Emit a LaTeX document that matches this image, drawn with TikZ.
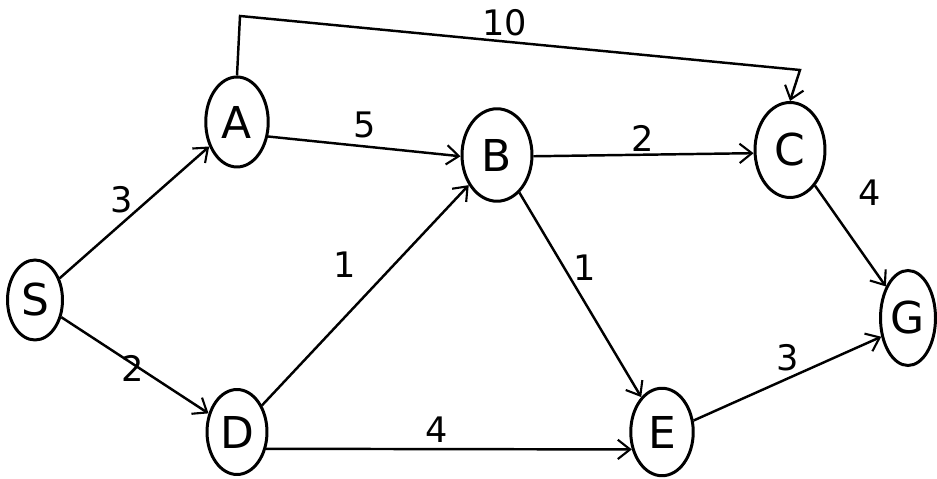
\documentclass[tikz,border=0pt]{standalone}
\usepackage{fontspec}
\setmainfont{DejaVu Sans}
\usetikzlibrary{shapes.geometric,arrows.meta}
\begin{document}
\begin{tikzpicture}[x=0.02cm,y=-0.02cm,
  vtx/.style={draw,ellipse,line width=1.7pt,inner sep=0pt,font=\fontsize{25}{27}\selectfont},
  edge/.style={line width=1.4pt,-{Straight Barb[length=7pt,width=11pt,line width=1.2pt]}},
  wt/.style={font=\fontsize{20}{22}\selectfont}]
\useasboundingbox (0,0) rectangle (937,479);
\node[vtx,minimum width=1.1cm,minimum height=1.6cm] (S) at (35,300) {S};
\node[vtx,minimum width=1.25cm,minimum height=1.8cm] (A) at (237,122) {A};
\node[vtx,minimum width=1.4cm,minimum height=1.85cm] (B) at (497,155) {B};
\node[vtx,minimum width=1.4cm,minimum height=1.9cm] (C) at (790,150) {C};
\node[vtx,minimum width=1.1cm,minimum height=1.9cm] (G) at (908,318) {G};
\node[vtx,minimum width=1.2cm,minimum height=1.7cm] (D) at (237,432) {D};
\node[vtx,minimum width=1.25cm,minimum height=1.75cm] (E) at (662,432) {E};
\coordinate (t1) at (240,16);
\coordinate (t2) at (800,70);
\draw[edge] (A.north) -- (t1) -- (t2) -- (C.north);
\draw[edge] (S) -- (A);
\draw[edge] (S) -- (D);
\draw[edge] (A.-25) -- (B.182);
\draw[edge] (B.-2) -- (C.185);
\draw[edge] (C) -- (G);
\draw[edge] (D) -- (B);
\draw[edge] (B) -- (E);
\draw[edge] (D.-30) -- (E.-150);
\draw[edge] (E.20) -- (G.-145);
\node[wt] (w10) at (505,23) {10};
\node[wt] (w3a) at (122,200) {3};
\node[wt] (w2a) at (133,368) {2};
\node[wt] (w5) at (365,125) {5};
\node[wt] (w2b) at (643,138) {2};
\node[wt] (w4a) at (870,193) {4};
\node[wt] (w1a) at (345,265) {1};
\node[wt] (w1b) at (585,268) {1};
\node[wt] (w4b) at (437,430) {4};
\node[wt] (w3b) at (788,358) {3};
\end{tikzpicture}
\end{document}
